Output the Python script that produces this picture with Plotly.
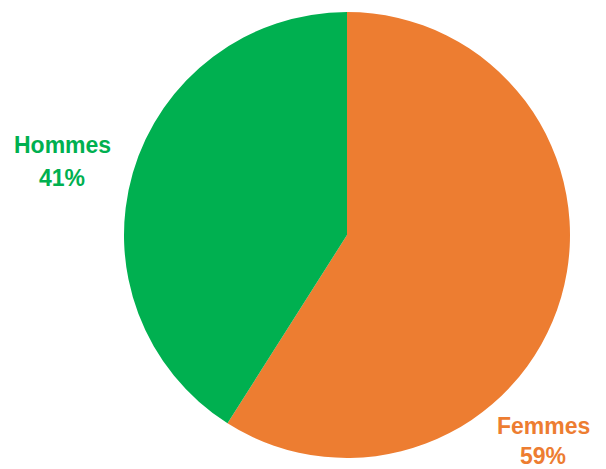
import plotly.graph_objects as go

labels = ["Femmes", "Hommes"]
values = [59, 41]
colors = ["#ED7D31", "#00B050"]

fig = go.Figure()
fig.add_trace(go.Pie(
    labels=labels,
    values=values,
    sort=False,
    direction="clockwise",
    rotation=0,
    marker=dict(colors=colors, line=dict(width=0)),
    textinfo="none",
    hoverinfo="label+percent",
    showlegend=False,
    domain=dict(x=[124/606, 570/606], y=[11/469, 457/469]),
))

total = sum(values)
label_pos = {"Hommes": (62, 145, 178), "Femmes": (543, 426, 456)}
for lab, val, col in zip(labels, values, colors):
    x, y1, y2 = label_pos[lab]
    pct = f"{round(100 * val / total)}%"
    for txt, yy in ((lab, y1), (pct, y2)):
        fig.add_annotation(
            x=x / 606, y=1 - yy / 469, xref="paper", yref="paper",
            text=f"<b>{txt}</b>", showarrow=False,
            xanchor="center", yanchor="middle",
            font=dict(family="Liberation Sans, Arial", size=23, color=col),
        )

fig.update_layout(
    width=606, height=469,
    margin=dict(l=0, r=0, t=0, b=0),
    paper_bgcolor="white",
    plot_bgcolor="white",
)

fig.write_html(
    "out.html",
    config={"displayModeBar": False},
    post_script="document.body.style.margin='0';document.body.style.overflow='hidden';",
)
